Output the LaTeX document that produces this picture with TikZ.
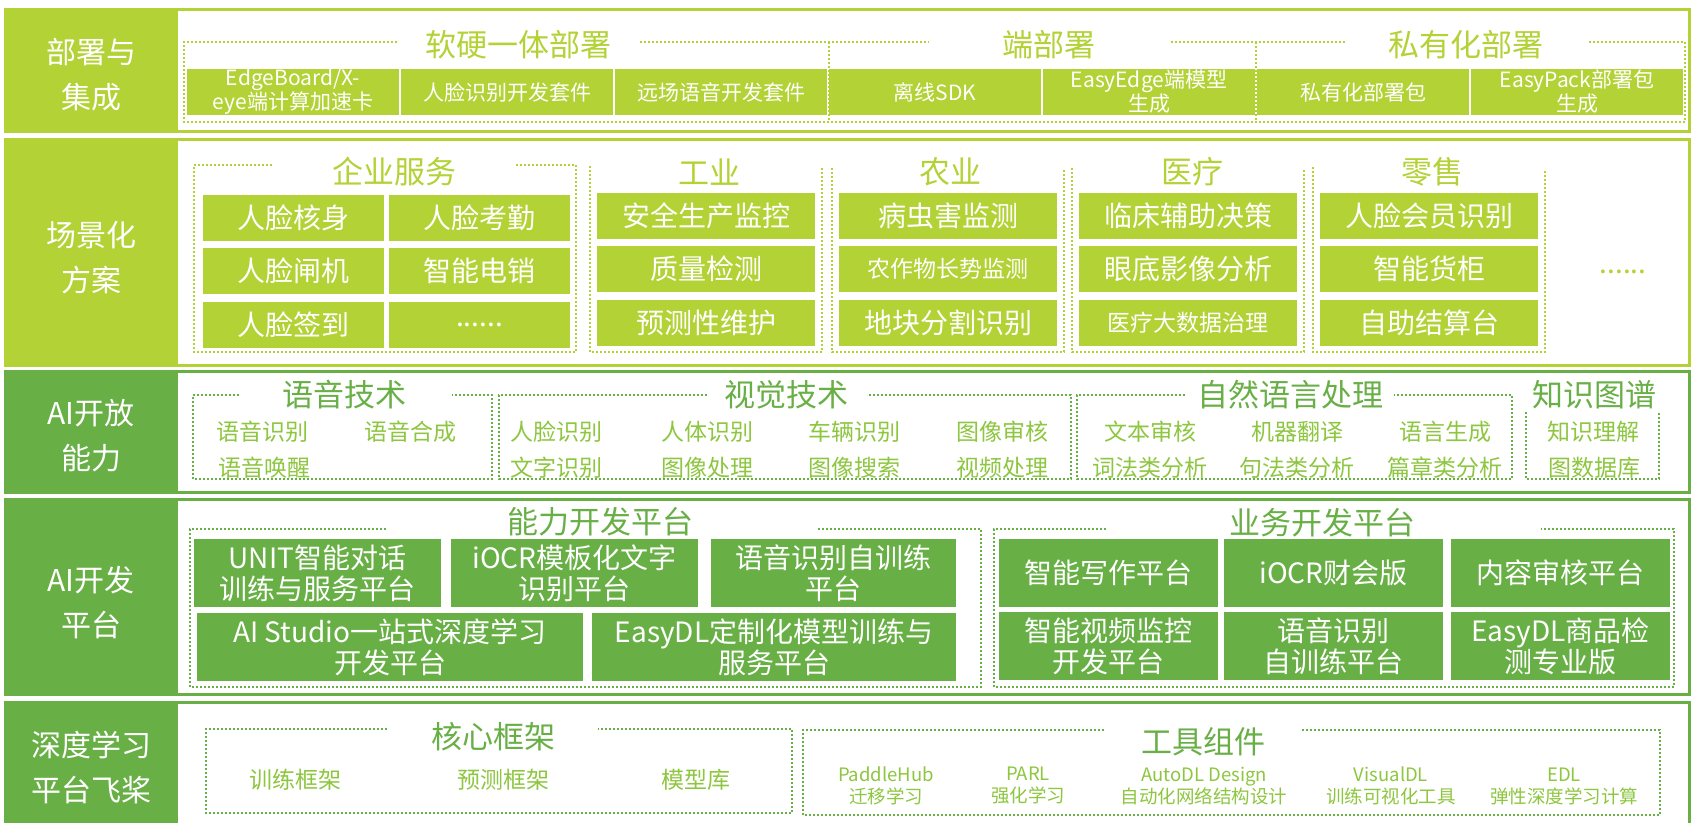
\documentclass[tikz,border=0pt]{standalone}
\usepackage{fontspec}
\setmainfont{Noto Sans CJK SC}
\definecolor{lima}{HTML}{B2D235}
\definecolor{verde}{HTML}{68AF46}
\definecolor{verdeclaro}{HTML}{8DC63F}
\newcommand{\tam}[2]{\fontsize{#1}{#2}\selectfont}

\begin{document}
\begin{tikzpicture}[x=1pt,y=-1pt,
    fila/.style={line width=3pt},
    etiqueta/.style={text=white,align=center,font=\tam{30}{45}},
    punteado/.style={line width=2.5pt,dash pattern=on 2pt off 2pt},
    caja/.style={text=white,align=center,inner sep=0pt},
    cajadep/.style={caja,fill=lima,minimum width=212pt,minimum height=46pt,font=\tam{21}{24}},
    cajaesc/.style={caja,fill=lima,minimum width=181pt,minimum height=46pt,font=\tam{28}{32}},
    cajasec/.style={caja,fill=lima,minimum width=218pt,minimum height=46pt,font=\tam{28}{32}},
    cajaplat/.style={caja,fill=verde,minimum height=68pt,font=\tam{28}{31}},
    titulo/.style={font=\tam{31}{36}},
    item/.style={text=verdeclaro,font=\tam{23}{28}},
    herramienta/.style={text=verdeclaro,align=center,font=\tam{18.5}{22}}]

    \useasboundingbox (0,0) rectangle (1692,822);
    \fill[white] (0,0) rectangle (1692,822);

    % Fila 1: despliegue e integracion
    \draw[fila,lima] (5,9) rectangle (1689,131);
    \fill[lima] (5,9) rectangle (178,131);
    \node[etiqueta] (lab1) at (91,75) {部署与\\集成};
    \draw[punteado,lima] (397,42) -- (184,42) -- (184,122) -- (1685,122) -- (1685,42) -- (1589,42);
    \draw[punteado,lima] (640,42) -- (929,42);
    \draw[punteado,lima] (1171,42) -- (1345,42);
    \draw[punteado,lima] (829,42) -- (829,122);
    \draw[punteado,lima] (1256,42) -- (1256,122);
    \node[titulo,text=lima] (sw) at (518,45) {软硬一体部署};
    \node[titulo,text=lima] (edge) at (1049,45) {端部署};
    \node[titulo,text=lima] (priv) at (1466,45) {私有化部署};
    \node[cajadep] (dep1) at (293,92) {EdgeBoard/X-\\eye端计算加速卡};
    \node[cajadep] (dep2) at (507,92) {人脸识别开发套件};
    \node[cajadep] (dep3) at (721,92) {远场语音开发套件};
    \node[cajadep] (dep4) at (935,92) {离线SDK};
    \node[cajadep] (dep5) at (1149,92) {EasyEdge端模型\\生成};
    \node[cajadep] (dep6) at (1363,92) {私有化部署包};
    \node[cajadep] (dep7) at (1577,92) {EasyPack部署包\\生成};

    % Fila 2: soluciones por escenario
    \draw[fila,lima] (5,139) rectangle (1689,365);
    \fill[lima] (5,139) rectangle (178,365);
    \node[etiqueta] (lab2) at (91,258) {场景化\\方案};
    \draw[punteado,lima] (272,165) -- (194,165) -- (194,352) -- (576,352) -- (576,165) -- (516,165);
    \draw[punteado,lima] (590,166) -- (590,352) -- (822,352) -- (822,168);
    \draw[punteado,lima] (832,168) -- (832,352) -- (1064,352) -- (1064,168);
    \draw[punteado,lima] (1072,168) -- (1072,352) -- (1304,352) -- (1304,170);
    \draw[punteado,lima] (1313,167) -- (1313,352) -- (1545,352) -- (1545,170);
    \node[titulo,text=lima] (empresa) at (394,172) {企业服务};
    \node[titulo,text=lima] (industria) at (709,172) {工业};
    \node[titulo,text=lima] (agro) at (950,172) {农业};
    \node[titulo,text=lima] (salud) at (1192,172) {医疗};
    \node[titulo,text=lima] (venta) at (1432,172) {零售};
    \node[cajaesc] (e1) at (293.5,218) {人脸核身};
    \node[cajaesc] (e2) at (479.5,218) {人脸考勤};
    \node[cajaesc] (e3) at (293.5,271) {人脸闸机};
    \node[cajaesc] (e4) at (479.5,271) {智能电销};
    \node[cajaesc] (e5) at (293.5,325) {人脸签到};
    \node[cajaesc] (e6) at (479.5,325) {......};
    \node[cajasec] (i1) at (706,216) {安全生产监控};
    \node[cajasec] (i2) at (706,269) {质量检测};
    \node[cajasec] (i3) at (706,323) {预测性维护};
    \node[cajasec] (a1) at (948,216) {病虫害监测};
    \node[cajasec,font=\tam{23}{28}] (a2) at (948,269) {农作物长势监测};
    \node[cajasec] (a3) at (948,323) {地块分割识别};
    \node[cajasec] (s1) at (1188,216) {临床辅助决策};
    \node[cajasec] (s2) at (1188,269) {眼底影像分析};
    \node[cajasec,font=\tam{23}{28}] (s3) at (1188,323) {医疗大数据治理};
    \node[cajasec] (v1) at (1429,216) {人脸会员识别};
    \node[cajasec] (v2) at (1429,269) {智能货柜};
    \node[cajasec] (v3) at (1429,323) {自助结算台};
    \node[text=lima,font=\tam{28}{32}] (mas) at (1623,272) {......};

    % Fila 3: capacidades abiertas
    \draw[fila,verde] (5,371) rectangle (1689,492);
    \fill[verde] (5,371) rectangle (178,492);
    \node[etiqueta] (lab3) at (91,436) {AI开放\\能力};
    \draw[punteado,verde] (239,395) -- (193,395) -- (193,479) -- (492,479) -- (492,395) -- (452,395);
    \draw[punteado,verde] (707,395) -- (499,395) -- (499,479) -- (1071,479) -- (1071,395) -- (867,395);
    \draw[punteado,verde] (1185,395) -- (1077,395) -- (1077,479) -- (1512,479) -- (1512,395) -- (1394,395);
    \draw[punteado,verde] (1526,412) -- (1526,479) -- (1659,479) -- (1659,412);
    \node[titulo,text=verde] (voz) at (344,395) {语音技术};
    \node[titulo,text=verde] (vision) at (786,395) {视觉技术};
    \node[titulo,text=verde] (pln) at (1290,395) {自然语言处理};
    \node[titulo,text=verde] (grafo) at (1594,395) {知识图谱};
    \node[item] (vz1) at (262,432) {语音识别};
    \node[item] (vz2) at (410,432) {语音合成};
    \node[item] (vz3) at (264,468) {语音唤醒};
    \node[item] (vs1) at (556,432) {人脸识别};
    \node[item] (vs2) at (707,432) {人体识别};
    \node[item] (vs3) at (854,432) {车辆识别};
    \node[item] (vs4) at (1002,432) {图像审核};
    \node[item] (vs5) at (556,468) {文字识别};
    \node[item] (vs6) at (707,468) {图像处理};
    \node[item] (vs7) at (854,468) {图像搜索};
    \node[item] (vs8) at (1002,468) {视频处理};
    \node[item] (nl1) at (1150,432) {文本审核};
    \node[item] (nl2) at (1297,432) {机器翻译};
    \node[item] (nl3) at (1445,432) {语言生成};
    \node[item] (nl4) at (1150,468) {词法类分析};
    \node[item] (nl5) at (1297,468) {句法类分析};
    \node[item] (nl6) at (1445,468) {篇章类分析};
    \node[item] (kg1) at (1593,432) {知识理解};
    \node[item] (kg2) at (1594,468) {图数据库};

    % Fila 4: plataformas de desarrollo
    \draw[fila,verde] (5,499) rectangle (1689,694);
    \fill[verde] (5,499) rectangle (178,694);
    \node[etiqueta] (lab4) at (91,603) {AI开发\\平台};
    \draw[punteado,verde] (386,529) -- (190,529) -- (190,687) -- (981,687) -- (981,529) -- (818,529);
    \draw[punteado,verde] (1106,529) -- (994,529) -- (994,687) -- (1674,687) -- (1674,529) -- (1541,529);
    \node[titulo,text=verde] (capac) at (600,522) {能力开发平台};
    \node[titulo,text=verde] (negocio) at (1322,523) {业务开发平台};
    \node[cajaplat,minimum width=247pt] (unit) at (317.5,573) {UNIT智能对话\\训练与服务平台};
    \node[cajaplat,minimum width=247pt] (iocrm) at (574.5,573) {iOCR模板化文字\\识别平台};
    \node[cajaplat,minimum width=245pt] (asrp) at (833.5,573) {语音识别自训练\\平台};
    \node[cajaplat,minimum width=386pt] (studio) at (390,647) {AI Studio一站式深度学习\\开发平台};
    \node[cajaplat,minimum width=364pt] (easydl) at (774,647) {EasyDL定制化模型训练与\\服务平台};
    \node[cajaplat,minimum width=219pt] (escrit) at (1108.5,573) {智能写作平台};
    \node[cajaplat,minimum width=219pt] (iocrf) at (1333.5,573) {iOCR财会版};
    \node[cajaplat,minimum width=219pt] (revis) at (1560.5,573) {内容审核平台};
    \node[cajaplat,minimum width=219pt] (video) at (1108.5,646) {智能视频监控\\开发平台};
    \node[cajaplat,minimum width=219pt] (asrn) at (1333.5,646) {语音识别\\自训练平台};
    \node[cajaplat,minimum width=219pt] (prod) at (1560.5,646) {EasyDL商品检\\测专业版};

    % Fila 5: plataforma de aprendizaje profundo
    \draw[fila,verde] (5,702) rectangle (1689,830);
    \fill[verde] (5,702) rectangle (178,830);
    \node[etiqueta] (lab5) at (91,767) {深度学习\\平台飞桨};
    \draw[punteado,verde] (387,729) -- (206,729) -- (206,813) -- (792,813) -- (792,729) -- (598,729);
    \draw[punteado,verde] (1104,730) -- (803,730) -- (803,815) -- (1660,815) -- (1660,730) -- (1302,730);
    \node[titulo,text=verde] (nucleo) at (493,737) {核心框架};
    \node[titulo,text=verde] (herr) at (1203,742) {工具组件};
    \node[item] (nc1) at (295,780) {训练框架};
    \node[item] (nc2) at (503,780) {预测框架};
    \node[item] (nc3) at (696,780) {模型库};
    \node[herramienta] (h1) at (886,786) {PaddleHub\\迁移学习};
    \node[herramienta] (h2) at (1028,786) {PARL\\强化学习};
    \node[herramienta] (h3) at (1204,786) {AutoDL Design\\自动化网络结构设计};
    \node[herramienta] (h4) at (1391,786) {VisualDL\\训练可视化工具};
    \node[herramienta] (h5) at (1564,786) {EDL\\弹性深度学习计算};
\end{tikzpicture}
\end{document}
